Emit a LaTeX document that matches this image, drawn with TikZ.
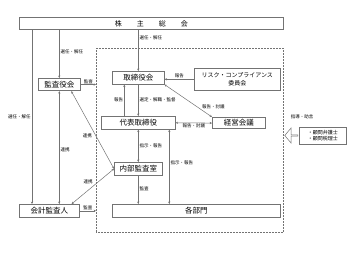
\documentclass[tikz,border=0pt]{standalone}
\usepackage{fontspec}
\setmainfont{Noto Sans CJK JP}
\usetikzlibrary{arrows.meta,positioning,shapes.arrows}

\begin{document}
\begin{tikzpicture}[
          x=1pt, y=-1pt,
          font=\fontsize{7.5}{8}\selectfont,
          box/.style={draw=black!55, line width=0.6pt, fill=white, anchor=north west,
                      inner sep=0pt, align=center},
          lbl/.style={font=\fontsize{4.5}{5}\selectfont, inner sep=1pt},
          fl/.style={-{Stealth[length=2.4pt,width=2.2pt]}, draw=black!55, line width=0.5pt},
          bfl/.style={{Stealth[length=2.4pt,width=2.2pt]}-{Stealth[length=2.4pt,width=2.2pt]},
                      draw=black!55, line width=0.5pt},
          grpframe/.style={draw=black!55, densely dotted, line width=0.5pt, anchor=north west,
                      inner sep=0pt}
        ]
        \useasboundingbox (0,0) rectangle (349,262);
        % dotted frame round the executive side
        \node[grpframe, minimum width=187pt, minimum height=184pt] (grp) at (96,48) {};
        % boxes
        \node[box, minimum width=264pt, minimum height=12.5pt] (soukai) at (19,17)
             {\fontsize{7}{8}\selectfont 株\hspace{15pt}主\hspace{15pt}総\hspace{15pt}会};
        \node[box, minimum width=42pt, minimum height=12.5pt] (kansa) at (38,78) {監査役会};
        \node[box, minimum width=52pt, minimum height=13pt] (board) at (112,71) {取締役会};
        \node[box, minimum width=86pt, minimum height=22pt, font=\fontsize{6}{8}\selectfont]
             (risk) at (194,68) {リスク・コンプライアンス\\委員会};
        \node[box, minimum width=74pt, minimum height=13pt] (ceo) at (101,116) {代表取締役};
        \node[box, minimum width=53pt, minimum height=11.5pt] (keiei) at (212,117) {経営会議};
        \node[box, minimum width=47pt, minimum height=17pt, align=left,
              font=\fontsize{5}{6.5}\selectfont] (komon) at (299,127) {・顧問弁護士\\・顧問税理士};
        \node[box, minimum width=48pt, minimum height=13pt] (naibu) at (114,162) {内部監査室};
        \node[box, minimum width=60pt, minimum height=13pt] (kaikei) at (19,204) {会計監査人};
        \node[box, minimum width=168pt, minimum height=13pt] (bumon) at (112,204) {各部門};
        % advice arrow
        \node[single arrow, draw=black!55, line width=0.5pt, shape border rotate=180,
              minimum height=13pt, minimum width=15pt, single arrow head extend=3pt,
              single arrow tip angle=100, inner sep=0pt] (adv) at (291.5,135.5) {};
        \node[lbl] (advlbl) at (302,117) {指導・助言};
        % shareholders
        \draw[fl] ([xshift=13pt]soukai.south west) -- node[lbl, left, pos=0.5] (l1) {選任・解任}
             ([xshift=13pt]kaikei.north west);
        \draw[fl] (kansa.north |- soukai.south) -- node[lbl, right, pos=0.46] (l2) {選任・解任} (kansa.north);
        \draw[fl] (board.north |- soukai.south) -- node[lbl, right, pos=0.2] (l3) {選任・解任} (board.north);
        % audit
        \draw[fl] (kansa.east) -- node[lbl, above] (l4) {監査} (kansa.east -| grp.west);
        \draw[fl] (kaikei.east) -- node[lbl, above] (l5) {監査} (kaikei.east -| grp.west);
        \draw[bfl] (kansa.south) -- node[lbl, right, pos=0.52] (l6) {連携} (kansa.south |- kaikei.north);
        \draw[bfl] ([xshift=12pt]kansa.south) -- node[lbl, left, pos=0.58, xshift=-3pt] (l7) {連携} (naibu.west);
        \draw[bfl] ([xshift=-8pt]kaikei.north east) -- node[lbl, left, pos=0.62, xshift=-4pt] (l8) {連携} (naibu.west);
        % board and executives
        \draw[fl] ([xshift=-14pt]ceo.north) -- node[lbl, left] (l9) {報告} ([xshift=-14pt]board.south);
        \draw[fl] (board.south) -- node[lbl, right] (l10) {選定・解職・監督} (ceo.north);
        \draw[fl] (risk.west) -- node[lbl, above] (l11) {報告} (risk.west -| board.east);
        \draw[bfl] (board.south east) -- node[lbl, right, pos=0.68, xshift=4pt] (l12) {報告・討議} (keiei.north west);
        \draw[bfl] (ceo.east) -- node[lbl, below] (l13) {報告・討議} (keiei.west);
        \draw[bfl] (ceo.south) -- node[lbl, right] (l14) {指示・報告} (naibu.north);
        \draw[bfl] ([xshift=31pt]ceo.south) -- node[lbl, right, pos=0.44] (l15) {指示・報告}
             ([xshift=31pt]ceo.south |- bumon.north);
        \draw[fl] (naibu.south) -- node[lbl, right, pos=0.45] (l16) {監査} (naibu.south |- bumon.north);
      \end{tikzpicture}
\end{document}
